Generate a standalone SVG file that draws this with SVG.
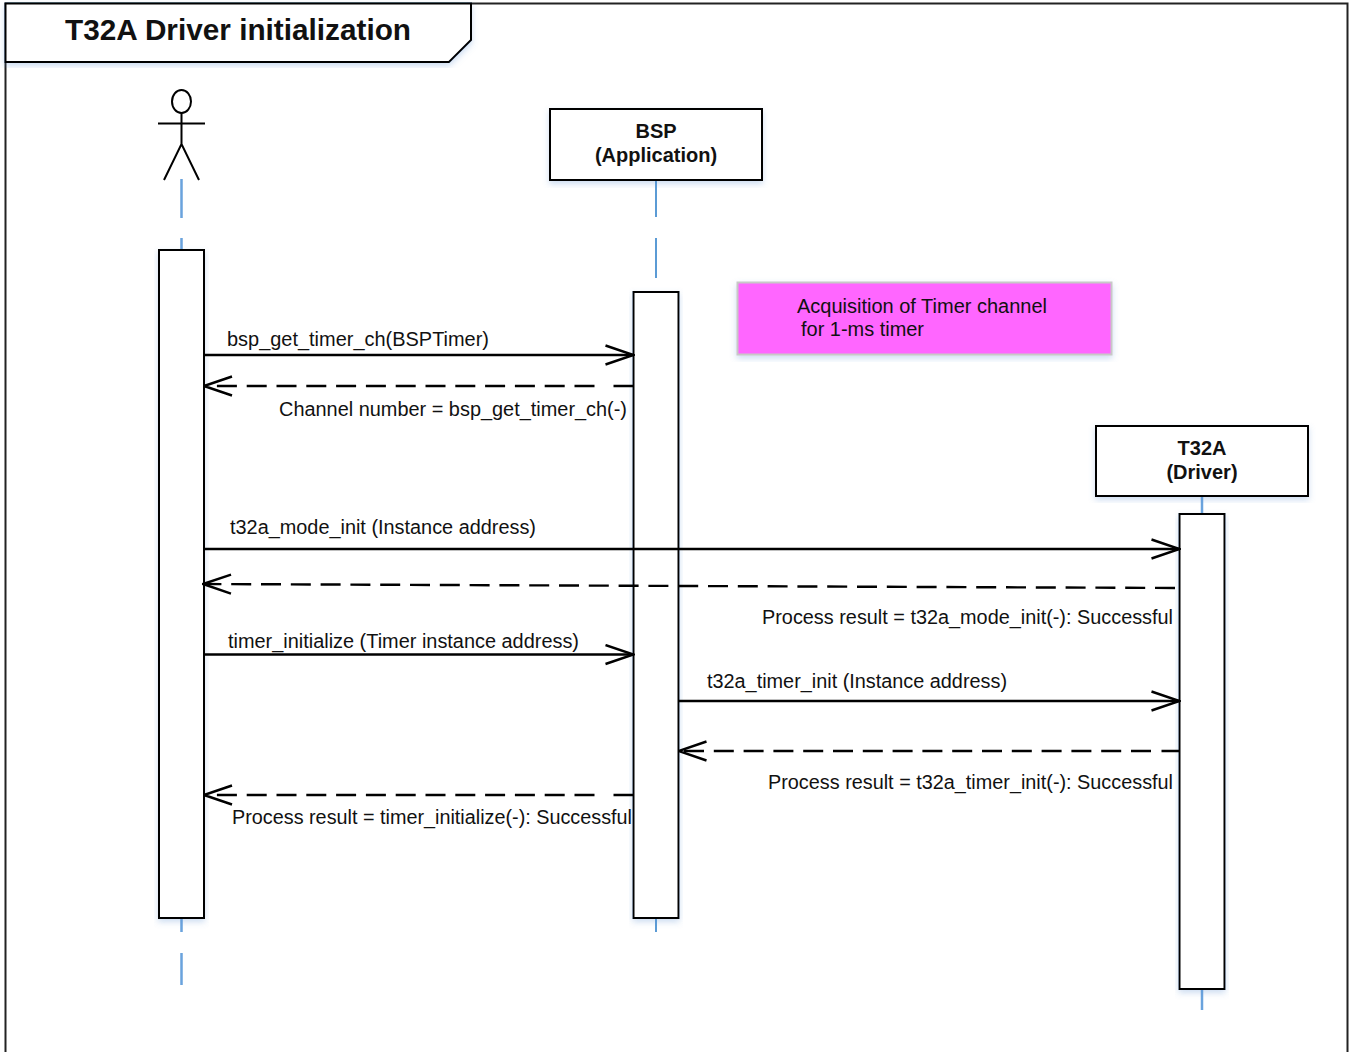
<svg xmlns="http://www.w3.org/2000/svg" width="1351" height="1052" viewBox="0 0 1351 1052">
<style>
text{font-family:"Liberation Sans",Arial,sans-serif;font-size:20px;fill:#111}
.b{font-weight:bold;text-anchor:middle}
.box{fill:#fff;stroke:#000;stroke-width:2;filter:url(#sh)}
.life{stroke:#5b9bd5;stroke-width:2;fill:none}
.life-a{stroke:#6aa3dd;stroke-width:2.500;fill:none}
.m{stroke:#000;stroke-width:2.400;fill:none;marker-end:url(#a)}
.r{stroke:#000;stroke-width:2.400;fill:none;stroke-dasharray:20 9.800;marker-end:url(#a)}
.s{stroke:#000;stroke-width:2;fill:none}
</style>
<defs>
<filter id="sh" x="-10%" y="-10%" width="120%" height="120%"><feDropShadow dx="0" dy="3" stdDeviation="3" flood-color="#5b8fd0" flood-opacity="0.3"/></filter>
<marker id="a" viewBox="0 0 30 22" refX="29" refY="11" markerUnits="userSpaceOnUse" markerWidth="30" markerHeight="22" orient="auto"><path d="M1 1.500L29 11L1 20.500" fill="none" stroke="#000" stroke-width="2.400"/></marker>
</defs>
<rect width="1351" height="1052" fill="#fff"/>
<g id="frame">
<path d="M5.500 1060V3.500H1347.500V1060" fill="none" stroke="#222" stroke-width="2"/>
<path class="box" d="M5.500 3.500H471V40L449 62H5.500Z"/>
<text x="65" y="40" style="font-size:30px;font-weight:bold" textLength="346" lengthAdjust="spacingAndGlyphs">T32A Driver initialization</text>
</g>
<g id="lifelines">
<path class="life-a" d="M181.500 179V218M181.500 238V250"/>
<path class="life-a" d="M181.500 919V932M181.500 953V985"/>
<path class="life" d="M656 180V217M656 238V278"/>
<path class="life" d="M656 919V932"/>
<path class="life-a" d="M1202 496V514"/>
<path class="life-a" d="M1202 989V1010"/>
</g>
<g id="actor">
<ellipse cx="181.500" cy="101.500" rx="9.500" ry="11.500" fill="#fff" stroke="#000" stroke-width="2"/>
<path class="s" d="M181.500 113V144M158 123.500H205M164 180L181.500 144L199 180"/>
</g>
<g id="actor-activation"><rect class="box" x="159" y="250" width="45" height="668"/></g>
<g id="bsp">
<rect class="box" x="550" y="109" width="212" height="71"/>
<text class="b" x="656" y="138">BSP</text>
<text class="b" x="656" y="162">(Application)</text>
</g>
<g id="bsp-activation"><rect class="box" x="633.500" y="292" width="45" height="626"/></g>
<g id="t32a">
<rect class="box" x="1096" y="426" width="212" height="70"/>
<text class="b" x="1202" y="455">T32A</text>
<text class="b" x="1202" y="479">(Driver)</text>
</g>
<g id="t32a-activation"><rect class="box" x="1179.500" y="514" width="45" height="475"/></g>
<g id="note">
<rect x="737.500" y="282.500" width="374" height="72" fill="#ff66ff" stroke="#c8c8c8" stroke-width="2" filter="url(#sh)"/>
<text x="797" y="313" textLength="250" lengthAdjust="spacingAndGlyphs">Acquisition of Timer channel</text>
<text x="801" y="336" textLength="123" lengthAdjust="spacingAndGlyphs">for 1-ms timer</text>
</g>
<g id="connectors">
<path class="m" d="M204 355H633.500"/>
<path class="r" d="M633.500 386H605M594.500 386H204"/>
<path class="m" d="M204 549H1179.500"/>
<path class="r" d="M1175 588L203 584"/>
<path class="m" d="M204 654.500H633.500"/>
<path class="m" d="M678.500 701H1179.500"/>
<path class="r" d="M1179.500 751H1161.500M1151 751H678.500"/>
<path class="r" d="M633.500 795H605M594.500 795H204"/>
</g>
<g id="labels">
<text x="227" y="346" textLength="262" lengthAdjust="spacingAndGlyphs">bsp_get_timer_ch(BSPTimer)</text>
<text x="279" y="416" textLength="348" lengthAdjust="spacingAndGlyphs">Channel number = bsp_get_timer_ch(-)</text>
<text x="230" y="534" textLength="306" lengthAdjust="spacingAndGlyphs">t32a_mode_init (Instance address)</text>
<text x="762" y="624" textLength="411" lengthAdjust="spacingAndGlyphs">Process result = t32a_mode_init(-): Successful</text>
<text x="228" y="648" textLength="351" lengthAdjust="spacingAndGlyphs">timer_initialize (Timer instance address)</text>
<text x="707" y="688" textLength="300" lengthAdjust="spacingAndGlyphs">t32a_timer_init (Instance address)</text>
<text x="768" y="789" textLength="405" lengthAdjust="spacingAndGlyphs">Process result = t32a_timer_init(-): Successful</text>
<text x="232" y="824" textLength="400" lengthAdjust="spacingAndGlyphs">Process result = timer_initialize(-): Successful</text>
</g>
</svg>
